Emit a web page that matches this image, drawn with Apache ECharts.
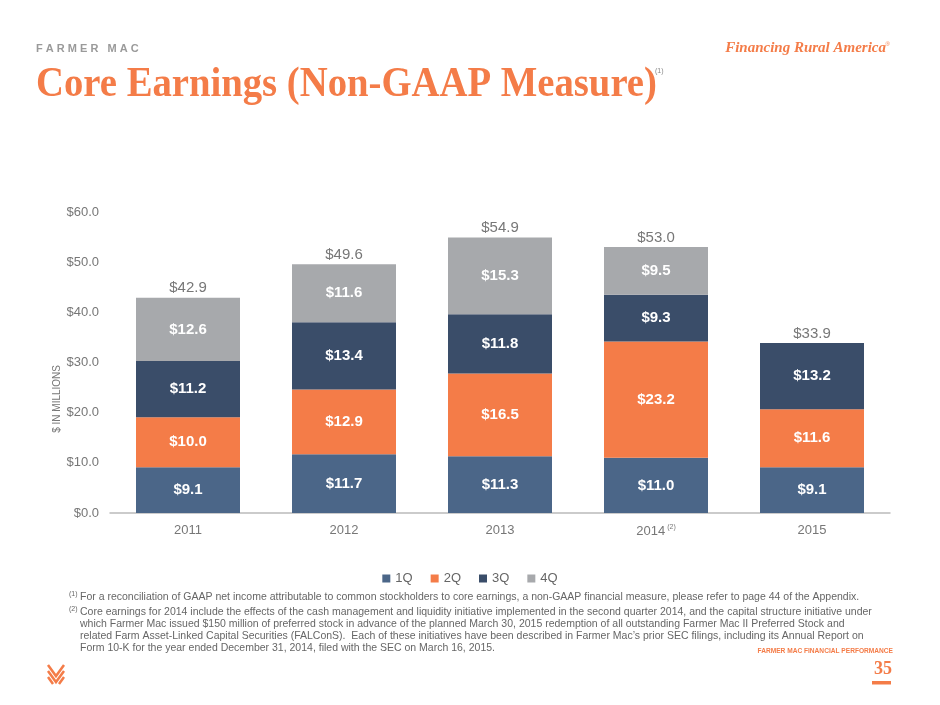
<!DOCTYPE html>
<html>
	<head>
		<meta charset="utf-8">
		<title>Core Earnings</title>
		<style>
			html,body{margin:0;padding:0;background:#fff;}
			#main{width:940px;height:705px;}
		</style>
	</head>
	<body>
		<div id="main"></div>
		<script src="https://cdn.jsdelivr.net/npm/echarts@6/dist/echarts.min.js"></script>
		<script>
			// 数据
			var years=['2011','2012','2013','2014','2015'];
			var q1=[9.1,11.7,11.3,11.0,9.1];
			var q2=[10.0,12.9,16.5,23.2,11.6];
			var q3=[11.2,13.4,11.8,9.3,13.2];
			var q4=[12.6,11.6,15.3,9.5,null];
			var totals=[42.9,49.6,54.9,53.0,33.9];
			var yTicks=[0,10,20,30,40,50,60];

			var colors=['#4b6688','#f47c48','#3a4d69','#a7a9ac'];
			var orange='#f47c48';
			var font='"Liberation Sans", Arial, sans-serif';

			var mychart=echarts.init(document.getElementById('main'));

			function inLabel(){
				return {
					show:true,
					position:'inside',
					color:'#fff',
					fontWeight:'bold',
					fontSize:15,
					fontFamily:font,
					formatter:function(p){
						if(p.value==null) return '';
						return '$'+p.value.toFixed(1);
					}
				};
			}

			var names=['1Q','2Q','3Q','4Q'];
			var lists=[q1,q2,q3,q4];
			var series=lists.map(function(arr,i){
				return {
					name:names[i],
					type:'bar',
					stack:'total',
					barWidth:104,
					itemStyle:{color:colors[i]},
					label:inLabel(),
					data:arr
				};
			});
			// 总计标签
			series.push({
				name:'total',
				type:'bar',
				stack:'total',
				barWidth:104,
				itemStyle:{color:'transparent'},
				label:{
					show:true,
					position:'top',
					distance:2,
					color:'#777',
					fontSize:15,
					fontFamily:font,
					formatter:function(p){return '$'+totals[p.dataIndex].toFixed(1);}
				},
				data:years.map(function(){return 0;})
			});

			var fnStyle={fill:'#666',fontSize:10.5,fontFamily:font};
			var footLines=[
				['(1)','For a reconciliation of GAAP net income attributable to common stockholders to core earnings, a non-GAAP financial measure, please refer to page 44 of the Appendix.'],
				['(2)','Core earnings for 2014 include the effects of the cash management and liquidity initiative implemented in the second quarter 2014, and the capital structure initiative under'],
				['','which Farmer Mac issued $150 million of preferred stock in advance of the planned March 30, 2015 redemption of all outstanding Farmer Mac II Preferred Stock and'],
				['','related Farm Asset-Linked Capital Securities (FALConS).  Each of these initiatives have been described in Farmer Mac\u2019s prior SEC filings, including its Annual Report on'],
				['','Form 10-K for the year ended December 31, 2014, filed with the SEC on March 16, 2015.']
			];
			var footTops=[591.5,607,619,631,643];
			var graphics=[
				{type:'text',left:36,top:43,style:{text:'F A R M E R   M A C',fill:'#9a9a9a',fontSize:11,fontWeight:'bold',fontFamily:font}},
				{type:'text',right:54,top:41,style:{text:'Financing Rural America',fill:orange,fontSize:15,fontWeight:'bold',fontStyle:'italic',fontFamily:'"Liberation Serif", serif'}},
				{type:'text',right:50,top:41,style:{text:'\u00ae',fill:orange,fontSize:6,fontFamily:font}},
				{type:'text',x:36,y:63,scaleX:0.9,style:{text:'Core Earnings (Non-GAAP Measure)',fill:orange,fontSize:43,fontWeight:'bold',fontFamily:'"Liberation Serif", serif'}},
				{type:'text',left:655,top:68,style:{text:'(1)',fill:'#888',fontSize:7,fontFamily:font}},
				{type:'text',left:52,top:365,rotation:Math.PI/2,style:{text:'$ IN MILLIONS',fill:'#777',fontSize:10,fontFamily:font,align:'center',verticalAlign:'middle'}},
				{type:'text',right:47,top:648,style:{text:'FARMER MAC FINANCIAL PERFORMANCE',fill:orange,fontSize:6.6,fontWeight:'bold',fontFamily:font}},
				{type:'text',right:48,top:660,style:{text:'35',fill:orange,fontSize:18,fontWeight:'bold',fontFamily:'"Liberation Serif", serif'}},
				{type:'rect',shape:{x:872,y:681,width:19,height:3.5},style:{fill:orange}},
				// 标志
				{type:'polyline',shape:{points:[[48,665],[56,676],[64,665]]},style:{stroke:orange,lineWidth:2.5,fill:null}},
				{type:'polyline',shape:{points:[[48,671],[56,682],[64,671]]},style:{stroke:orange,lineWidth:2.5,fill:null}},
				{type:'polyline',shape:{points:[[48,677],[53,684]]},style:{stroke:orange,lineWidth:2.5,fill:null}},
				{type:'polyline',shape:{points:[[64,677],[59,684]]},style:{stroke:orange,lineWidth:2.5,fill:null}}
			];
			footLines.forEach(function(l,i){
				var y=footTops[i];
				if(l[0]) graphics.push({type:'text',left:69,top:y-1,style:{text:l[0],fill:'#666',fontSize:7,fontFamily:font}});
				graphics.push({type:'text',left:80,top:y,style:Object.assign({},fnStyle,{text:l[1]})});
			});

			var option={
				animation:false,
				textStyle:{fontFamily:font},
				grid:{left:110,right:50,top:212,bottom:192,containLabel:false},
				legend:{
					data:names,
					top:567,
					left:'center',
					itemWidth:8,
					itemHeight:8,
					itemGap:18,
					icon:'rect',
					textStyle:{color:'#666',fontSize:13,fontFamily:font}
				},
				xAxis:{
					type:'category',
					data:years,
					axisLine:{lineStyle:{color:'#bbb',width:1.5}},
					axisTick:{show:false},
					axisLabel:{
						color:'#777',
						fontSize:13,
						margin:11,
						formatter:function(v){return v==='2014'?v+'{sup|(2)}':v;},
						rich:{sup:{fontSize:7,color:'#777',verticalAlign:'top',padding:[0,0,8,2]}}
					}
				},
				yAxis:{
					type:'value',
					min:yTicks[0],
					max:yTicks[yTicks.length-1],
					interval:10,
					splitLine:{show:false},
					axisLine:{show:false},
					axisTick:{show:false},
					axisLabel:{
						color:'#777',
						fontSize:13,
						margin:11,
						formatter:function(v){return '$'+v.toFixed(1);}
					}
				},
				graphic:graphics,
				series:series
			};
			mychart.setOption(option);
		</script>
	</body>
</html>
